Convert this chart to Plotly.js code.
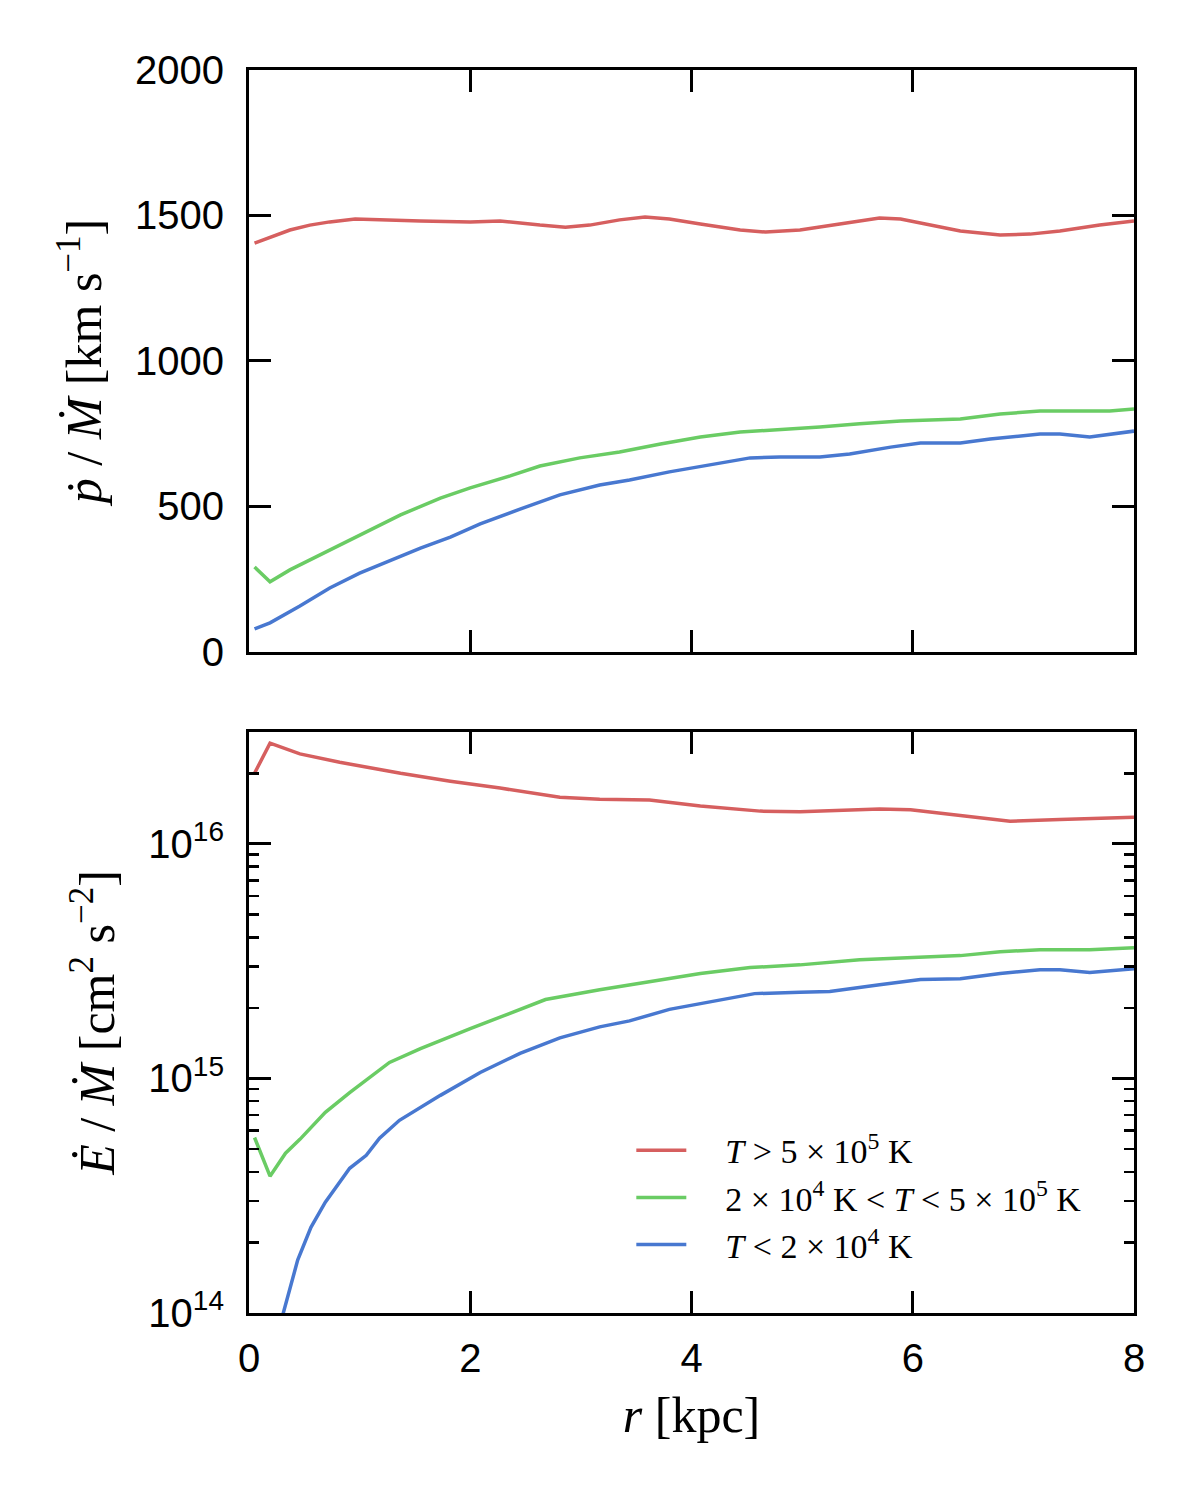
<!DOCTYPE html>
<html>
<head>
<meta charset="utf-8">
<script src="https://cdn.plot.ly/plotly-3.0.1.min.js"></script>
<style>html,body{margin:0;padding:0;background:#fff;}#chart{width:1200px;height:1500px;}</style>
</head>
<body>
<div id="chart"></div>
<script>
// ---- Top panel: momentum flux / mass flux [km/s] ----
const rHotP = [0.05,0.19,0.37,0.55,0.73,0.96,1.18,1.55,2.0,2.27,2.63,2.86,3.08,3.35,3.58,3.8,4.08,4.44,4.67,4.98,5.34,5.7,5.89,6.16,6.43,6.79,7.06,7.33,7.69,8.0];
const pHot  = [1405,1426,1450,1467,1478,1488,1485,1481,1478,1481,1467,1460,1467,1485,1495,1488,1471,1450,1443,1450,1471,1491,1488,1467,1447,1433,1436,1447,1467,1481];

const rWarmP = [0.05,0.19,0.37,0.64,1.0,1.37,1.73,2.0,2.36,2.63,2.99,3.35,3.72,4.08,4.44,4.8,5.16,5.52,5.89,6.43,6.79,7.15,7.51,7.78,8.0];
const pWarm  = [292,241,282,333,402,471,529,564,605,639,667,687,715,739,756,763,773,784,794,801,818,828,828,828,835];

const rColdP = [0.05,0.19,0.46,0.73,1.0,1.18,1.55,1.82,2.09,2.45,2.81,3.17,3.44,3.8,4.17,4.53,4.8,5.16,5.43,5.8,6.07,6.43,6.7,7.15,7.33,7.6,8.0];
const pCold  = [79,100,158,220,271,299,357,395,440,491,540,574,591,619,643,667,670,670,680,704,718,718,732,749,749,739,759];

// ---- Bottom panel: energy flux / mass flux [cm^2 s^-2] ----
const rHotE = [0.05,0.19,0.46,0.82,1.37,1.82,2.27,2.81,3.17,3.62,4.08,4.62,4.98,5.7,5.98,6.43,6.88,7.33,8.0];
const eHot  = [2.0e16,2.69e16,2.42e16,2.23e16,2.0e16,1.85e16,1.73e16,1.58e16,1.55e16,1.54e16,1.45e16,1.38e16,1.37e16,1.41e16,1.40e16,1.32e16,1.25e16,1.27e16,1.30e16];

const rWarmE = [0.05,0.19,0.33,0.46,0.69,0.91,1.27,1.55,2.0,2.36,2.68,3.17,3.62,4.08,4.53,4.98,5.52,5.89,6.43,6.79,7.15,7.6,8.0];
const eWarm  = [5.6e14,3.83e14,4.8e14,5.5e14,7.17e14,8.7e14,1.17e15,1.34e15,1.63e15,1.89e15,2.17e15,2.39e15,2.59e15,2.8e15,2.97e15,3.05e15,3.21e15,3.27e15,3.34e15,3.47e15,3.54e15,3.54e15,3.61e15];

const rColdE = [0.05,0.19,0.31,0.44,0.56,0.69,0.91,1.06,1.18,1.36,1.73,2.09,2.45,2.81,3.17,3.44,3.8,4.17,4.57,4.98,5.25,5.7,6.07,6.43,6.79,7.15,7.33,7.6,8.0];
const eCold  = [4.0e13,6.3e13,1.0e14,1.68e14,2.32e14,2.97e14,4.14e14,4.7e14,5.56e14,6.63e14,8.47e14,1.06e15,1.28e15,1.49e15,1.66e15,1.76e15,1.97e15,2.13e15,2.3e15,2.33e15,2.35e15,2.51e15,2.64e15,2.66e15,2.8e15,2.91e15,2.91e15,2.83e15,2.94e15];

const pad = '\u00a0\u00a0\u00a0\u00a0';
const names = [pad + '<i>T</i> > 5 × 10<sup>5</sup> K', pad + '2 × 10<sup>4</sup> K < <i>T</i> < 5 × 10<sup>5</sup> K', pad + '<i>T</i> < 2 × 10<sup>4</sup> K'];
const colors = ['#d65f5f', '#6acc64', '#4878d0'];
const xTicks = [0,2,4,6,8];
const yTicksTop = [0,500,1000,1500,2000];
const yTicksLog = [1e14,1e15,1e16];
const yTickTextLog = ['10<sup>14</sup>','10<sup>15</sup>','10<sup>16</sup>'];

const minorLog = [];
for (let d = 14; d <= 16; d++) for (let m = 2; m <= 9; m++) minorLog.push(m * Math.pow(10, d));

const lw = 3.5;
const traces = [
  {x: rHotP, y: pHot, xaxis:'x', yaxis:'y', mode:'lines', line:{color:colors[0], width:lw}, showlegend:false},
  {x: rWarmP, y: pWarm, xaxis:'x', yaxis:'y', mode:'lines', line:{color:colors[1], width:lw}, showlegend:false},
  {x: rColdP, y: pCold, xaxis:'x', yaxis:'y', mode:'lines', line:{color:colors[2], width:lw}, showlegend:false},
  {x: rHotE, y: eHot, xaxis:'x2', yaxis:'y2', mode:'lines', name:names[0], line:{color:colors[0], width:lw}},
  {x: rWarmE, y: eWarm, xaxis:'x2', yaxis:'y2', mode:'lines', name:names[1], line:{color:colors[1], width:lw}},
  {x: rColdE, y: eCold, xaxis:'x2', yaxis:'y2', mode:'lines', name:names[2], line:{color:colors[2], width:lw}}
];

const tickFont = {family:'Liberation Sans, Arial, sans-serif', size:40, color:'#000'};
const titleFont = {family:'Liberation Serif, DejaVu Serif, serif', size:50, color:'#000'};
const axCommon = {
  showline:true, linecolor:'#000', linewidth:3, mirror:'allticks',
  ticks:'inside', ticklen:22, tickwidth:3, tickcolor:'#000',
  showgrid:false, zeroline:false, tickfont:tickFont
};

const layout = {
  width:1200, height:1500,
  margin:{l:249, r:66, t:70, b:187},
  paper_bgcolor:'#fff', plot_bgcolor:'#fff',
  showlegend:true,
  legend:{x:0.432, y:0.154, xanchor:'left', yanchor:'top', bgcolor:'rgba(0,0,0,0)',
          font:{family:'Liberation Serif, DejaVu Serif, serif', size:34, color:'#000'},
          tracegroupgap:0, itemwidth:50},
  xaxis: Object.assign({}, axCommon, {domain:[0,1], anchor:'y', range:[0,8], tickvals:xTicks, showticklabels:false}),
  yaxis: Object.assign({}, axCommon, {domain:[0.5318,1], anchor:'x', range:[0,2000], tickvals:yTicksTop,
          ticklabelstandoff:14,
          title:{text:'<i>ṗ</i> / <i>Ṁ</i> [km s<sup>−1</sup>]', font:titleFont, standoff:18}}),
  xaxis2: Object.assign({}, axCommon, {domain:[0,1], anchor:'y2', range:[0,8], tickvals:xTicks,
          ticklabelstandoff:8,
          title:{text:'<i>r</i> [kpc]', font:titleFont, standoff:18}}),
  yaxis2: Object.assign({}, axCommon, {domain:[0,0.4674], anchor:'x2', type:'log',
          range:[14, Math.log10(3.0e16)], tickvals:yTicksLog, ticktext:yTickTextLog,
          ticklabelstandoff:14,
          minor:{tickvals:minorLog, ticks:'inside', ticklen:10, tickwidth:2.5, tickcolor:'#000', showgrid:false},
          title:{text:'<i>Ė</i> / <i>Ṁ</i> [cm<sup>2</sup> s<sup>−2</sup>]', font:titleFont, standoff:18}})
};

Plotly.newPlot('chart', traces, layout, {staticPlot:true, displayModeBar:false});
</script>
</body>
</html>
